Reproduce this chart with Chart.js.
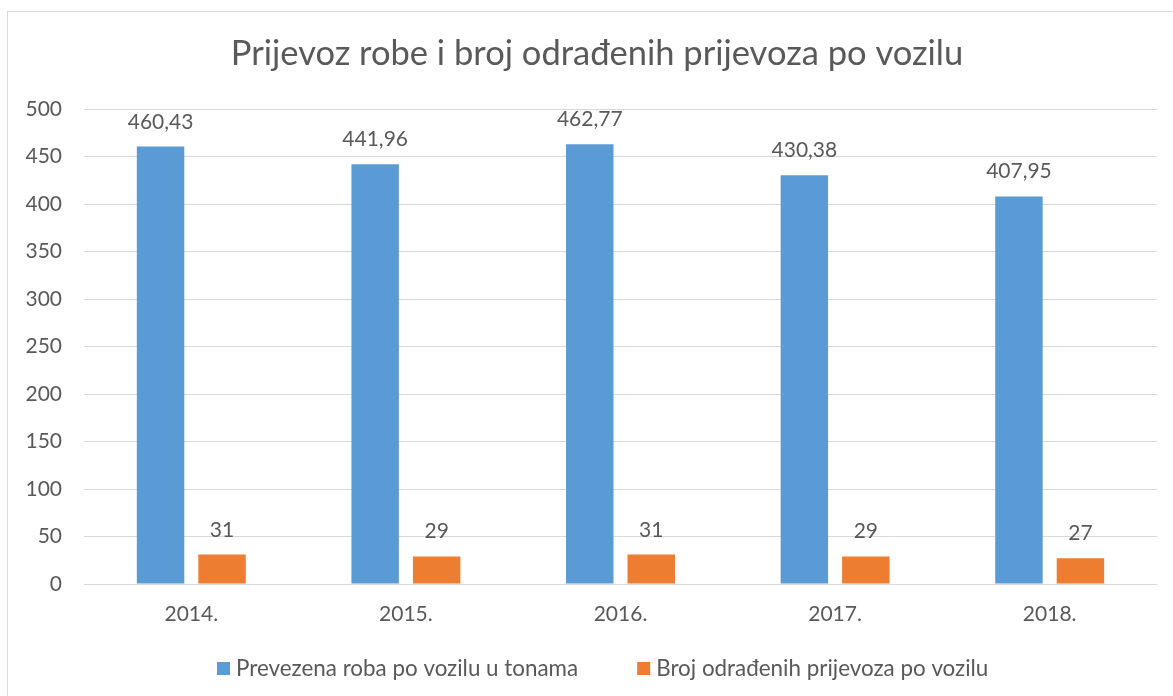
<!DOCTYPE html>
<html><head><meta charset="utf-8">
<script src="https://cdn.jsdelivr.net/npm/chart.js@4/dist/chart.umd.min.js"></script>
<style>html,body{margin:0;padding:0;background:#fff;overflow:hidden}#wrap{width:1173px;height:696px;position:relative}</style>
</head><body><div id="wrap"><canvas id="c" width="1173" height="696"></canvas></div>
<script>
const chartTitle = 'Prijevoz robe i broj odrađenih prijevoza po vozilu';
const categories = ['2014.', '2015.', '2016.', '2017.', '2018.'];
const seriesNames = ['Prevezena roba po vozilu u tonama', 'Broj odrađenih prijevoza po vozilu'];
const goodsPerVehicle = [460.43, 441.96, 462.77, 430.38, 407.95];
const tripsPerVehicle = [31, 29, 31, 29, 27];
const yTickValues = [0, 50, 100, 150, 200, 250, 300, 350, 400, 450, 500];

const TEXT = '#595959';
const GRID = '#d9d9d9';
const FONT = 'Lato, "Open Sans", sans-serif';
const COLORS = ['#5b9bd5', '#ed7d31'];

const fmt = v => String(v).replace('.', ',');

const decorPlugin = {
  id: 'decor',
  beforeDraw(chart) {
    const ctx = chart.ctx;
    ctx.save();
    ctx.strokeStyle = GRID;
    ctx.lineWidth = 1;
    ctx.strokeRect(7.5, 11.5, 1300, 800);
    ctx.restore();
  },
  afterDatasetsDraw(chart) {
    const ctx = chart.ctx;
    ctx.save();
    ctx.fillStyle = TEXT;
    ctx.font = '21px ' + FONT;
    ctx.textAlign = 'center';
    ctx.textBaseline = 'alphabetic';
    chart.data.datasets.forEach((ds, di) => {
      const meta = chart.getDatasetMeta(di);
      meta.data.forEach((el, i) => {
        ctx.fillText(fmt(ds.data[i]), el.x, el.y - 18);
      });
    });
    ctx.restore();
  },
  afterDraw(chart) {
    const ctx = chart.ctx;
    ctx.save();
    ctx.fillStyle = TEXT;
    ctx.textBaseline = 'alphabetic';
    // title
    ctx.font = '34.5px ' + FONT;
    ctx.textAlign = 'center';
    ctx.fillText(chartTitle, 597, 65);
    // legend
    ctx.font = '22.4px ' + FONT;
    ctx.textAlign = 'left';
    let x = 217;
    chart.data.datasets.forEach((ds, di) => {
      ctx.fillStyle = ds.backgroundColor;
      ctx.fillRect(x, 662, 13, 13);
      x += 13 + 6;
      ctx.fillStyle = TEXT;
      ctx.fillText(ds.label, x, 675.5);
      x += ctx.measureText(ds.label).width + 59;
    });
    ctx.restore();
  }
};

new Chart(document.getElementById('c'), {
  type: 'bar',
  data: {
    labels: categories,
    datasets: [
      { label: seriesNames[0], data: goodsPerVehicle, backgroundColor: COLORS[0], borderWidth: 0 },
      { label: seriesNames[1], data: tripsPerVehicle, backgroundColor: COLORS[1], borderWidth: 0 }
    ]
  },
  options: {
    responsive: false,
    devicePixelRatio: 1,
    animation: false,
    layout: { padding: { top: 109, left: 0, right: 16, bottom: 50 } },
    datasets: { bar: { categoryPercentage: 0.573, barPercentage: 0.772 } },
    plugins: { legend: { display: false }, title: { display: false }, tooltip: { enabled: false } },
    scales: {
      x: {
        grid: { display: false },
        border: { display: false },
        ticks: { color: TEXT, font: { family: FONT, size: 21 }, padding: 10 },
        afterFit(s) { s.height = 62; }
      },
      y: {
        min: 0, max: 500,
        afterBuildTicks(s) { s.ticks = yTickValues.map(v => ({ value: v })); },
        grid: { color: GRID, lineWidth: 1, drawTicks: false },
        border: { display: false },
        ticks: { color: TEXT, font: { family: FONT, size: 21 }, padding: 22 },
        afterFit(s) { s.width = 84; }
      }
    }
  },
  plugins: [decorPlugin]
});
</script>
</body></html>
